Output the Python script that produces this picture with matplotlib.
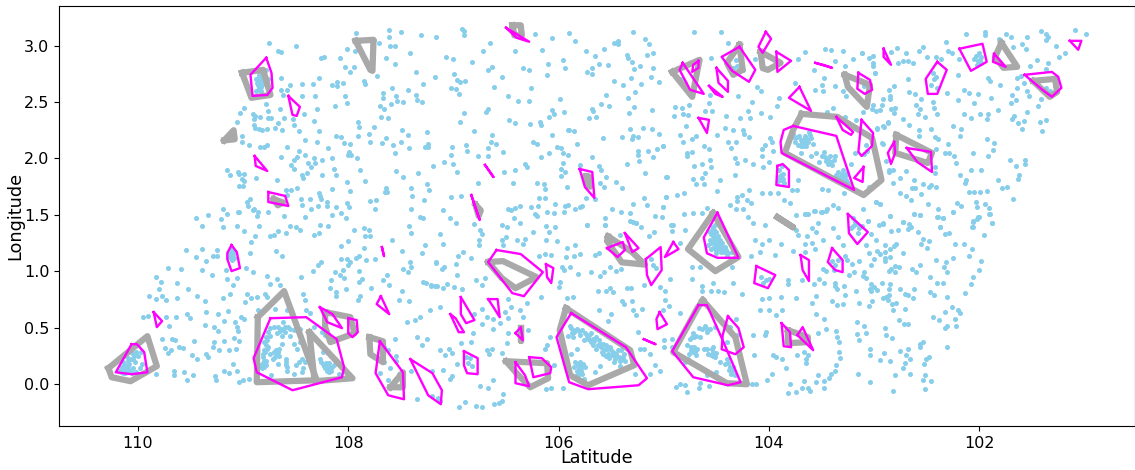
# -*- coding: utf-8 -*-
"""
Point clusters with gray and magenta hulls, values read off the picture
"""

import matplotlib
matplotlib.use("Agg")
import matplotlib.pyplot as plt

# Scattered points, by part of the map
pts_southwest = [(109.39,1.40),(109.19,1.39),(109.06,1.40),(108.99,1.36),(108.85,1.40),(108.55,1.40),(108.50,1.39),(108.46,1.37),(108.59,1.34),(108.67,1.36),(108.74,1.31),(108.71,1.325),(108.89,1.31),(108.92,1.26),(108.27,1.41),(108.19,1.40),(108.33,1.325),(108.28,1.34),(107.95,1.37),(107.85,1.38),(107.80,1.37),(107.84,1.31),(107.79,1.31),(107.58,1.28),(107.42,1.40),(107.40,1.34),(108.00,1.265),(108.07,1.225),(107.85,1.21),(107.90,1.14),(107.27,1.23),(107.30,1.16),(107.49,1.18),(109.54,1.19),(109.39,1.20),(109.25,1.19),(109.45,1.13),(109.29,1.135),(109.25,1.135),(109.35,1.09),(108.93,1.16),(108.69,1.18),(108.63,1.135),(109.71,1.03),(109.59,1.02),(109.39,1.01),(109.30,.97),(109.16,1.01),(108.97,1.03),(108.91,.99),(108.77,.96),(108.68,.93),(108.45,.95),(108.34,1.00),(108.29,1.055),(108.26,1.08),(108.13,.99),(108.07,1.11),(108.01,1.11),(107.98,1.085),(107.93,1.115),(107.83,1.10),(107.75,1.105),(108.05,1.01),(108.00,1.055),(108.08,.97),(108.04,.945),(107.90,1.005),(108.16,.92),(107.87,.93),(107.90,.905),(107.67,.92),(107.63,.965),(107.61,.88),(107.48,1.025),(107.43,.995),(107.41,1.085),(107.40,1.04),(107.17,1.075),(107.29,.91),(107.26,.90),(107.21,.875),(107.16,.87),
    (109.83,.95),(109.78,.91),(109.63,.90),(109.80,.845),(109.52,.845),(109.89,.78),(109.83,.755),(109.77,.78),(109.73,.745),(109.63,.76),(109.44,.78),(109.36,.735),(109.19,.76),(109.12,.80),(109.10,.88),(109.06,.94),(109.15,.93),(108.96,.80),(108.98,.73),(108.92,.76),(108.87,.77),(108.79,.80),(108.74,.89),(108.77,.77),(108.65,.88),(108.43,.80),(108.41,.745),(108.17,.855),(108.12,.82),(108.12,.78),(108.02,.84),(107.89,.78),(107.91,.745),(107.78,.85),(107.49,.83),(107.52,.745),(107.42,.74),(107.22,.655),(107.32,.60),(107.37,.567),(107.13,.685),
    (109.53,.625),(109.50,.585),(109.35,.64),(109.24,.625),(109.14,.645),(109.02,.60),(108.99,.58),(108.86,.655),(108.70,.665),(108.58,.66),(108.40,.655),(108.36,.63),(109.73,.60),(109.64,.60),(109.95,.595),(109.90,.605),(109.70,.52),(109.36,.525),(109.28,.51),(109.18,.56),(109.08,.55),(109.24,.47),(109.06,.51),(109.05,.47),(109.77,.40),(109.68,.40),(109.65,.395),(109.47,.38),(109.28,.37),(109.18,.38),(109.09,.41),(109.04,.38),(109.74,.325),(109.69,.305),(109.61,.33),(109.57,.325),(109.71,.28),(109.49,.26),(109.44,.22),(109.35,.27),(109.33,.24),(109.29,.33),(109.23,.305),(109.13,.30),(109.07,.31),(109.10,.18),(109.06,.12),(109.18,.12),(109.13,.10),(109.66,.12),(109.66,.08),(109.56,.105),(109.48,.08),(109.53,.04),(109.27,.07),(109.26,.035),(109.00,.035),(108.94,.05),(109.04,.02),(109.83,.09)]

pts_south_centre = [(107.13,1.33),(107.10,1.24),(106.98,1.425),(106.80,1.42),(106.75,1.365),(106.73,1.33),(106.76,1.28),(106.76,1.23),(106.54,1.41),(106.49,1.39),(106.37,1.425),(106.12,1.405),(106.03,1.395),(106.09,1.35),(106.24,1.35),(106.32,1.29),(106.40,1.28),(106.50,1.30),(106.54,1.28),(106.53,1.23),(106.34,1.24),(106.12,1.28),(106.02,1.27),(105.92,1.21),(105.84,1.23),(105.73,1.41),(105.56,1.41),(105.42,1.32),(105.26,1.425),(105.22,1.39),(104.93,1.41),(104.92,1.36),(104.80,1.365),(105.14,1.315),(105.09,1.35),(104.85,1.25),
    (106.91,1.175),(106.96,1.14),(106.83,1.12),(107.17,1.08),(106.98,1.065),(107.09,1.035),(107.11,1.02),(106.79,.92),(106.70,.94),(106.97,.97),(106.73,.88),(107.06,.89),(107.10,.855),(107.21,.87),(107.18,.87),(106.99,.86),(106.92,.84),(106.19,1.14),(106.13,1.155),(106.07,1.145),(105.93,1.13),(105.85,1.14),(105.80,1.15),(105.65,1.145),(105.62,1.16),(105.97,1.035),(105.89,1.04),(105.95,1.01),(105.82,.98),(105.69,.99),(105.57,.995),(105.51,1.035),(105.61,.96),(105.45,1.005),(105.41,1.02),(105.99,.91),(106.00,.86),(105.63,.83),(105.55,.83),(105.51,.855),(105.48,.815),(105.35,.85),(105.31,.855),(105.19,.88),(104.99,.825),(105.04,.86),(104.94,.93),(104.73,.93),(104.64,.87),(104.53,.90),(104.55,.83),(104.48,.83),(104.43,.82),(104.34,.90),(104.26,.80),(104.64,.83),(104.73,1.04),(104.66,1.04),(104.35,1.04),(103.82,.92),(103.82,.89),(103.69,.92),(103.74,1.365),(103.72,1.32),(103.89,1.24),(104.13,1.28),(104.07,1.24),(104.00,1.28),(104.17,1.14),(104.09,1.17),(103.94,1.145),(103.77,1.18),(103.66,1.24),
    (105.92,.76),(105.86,.775),(106.17,.775),(106.30,.72),(106.48,.755),(106.51,.64),(106.45,.68),(106.37,.655),(106.34,.60),(106.48,.59),(106.62,.58),(106.68,.60),(106.73,.67),(106.80,.625),(106.73,.535),(106.56,.54),(106.62,.49),(106.48,.45),(106.29,.48),(106.81,.455),(106.93,.365),(106.83,.375),(107.13,.30),(107.04,.315),(107.01,.28),(107.08,.255),(106.68,.30),(106.63,.315),(106.66,.265),(106.54,.275),(106.49,.365),(106.08,.42),(106.11,.345),(106.13,.31),(106.97,.18),(107.10,.13),(107.01,.07),(107.03,.05),(106.75,-.015),(106.62,.035),(106.67,-.035),(106.53,-.09),(106.95,-.20),(106.89,-.16),(106.79,-.19),(106.73,-.20),(106.61,-.175),(106.57,-.17),(106.54,-.145),(106.12,-.045),(106.07,-.035),(105.96,-.03),(106.04,.17),
    (105.62,.655),(105.50,.625),(105.53,.56),(105.40,.735),(105.38,.71),(105.30,.735),(105.29,.655),(105.26,.61),(105.21,.67),(105.25,.46),(105.19,.315),(105.23,.315),(105.13,.27),(105.08,.17),(105.04,.115),(105.13,.09),(104.99,.745),(104.95,.69),(105.01,.66),(104.85,.635),(105.00,.39),(104.92,.40),(104.92,.33),(105.00,.33),(104.88,-.025),(104.85,-.0),(104.80,-.01),(104.78,-.07),(104.66,.015),(104.67,-.03),(104.57,-.02),(104.16,.0),(104.12,.005),
    (104.07,.755),(104.00,.765),(103.89,.775),(103.74,.76),(104.09,.66),(104.00,.66),(103.93,.61),(103.88,.66),(104.03,.46),(104.15,.435),(104.04,.435),(104.14,.26),(103.96,.255),(103.93,.24),(103.88,.225),(103.73,.255),(103.67,.285),(103.84,.14),(103.97,.09),(104.02,.04),(103.80,.0),(103.74,-.065),(103.82,-.075),(103.69,-.035),
    (107.20,.12),(107.30,.35),(107.44,.55),(107.56,.40),(107.62,.30),(107.55,.25),(107.60,.14),(107.66,.20),(107.70,.10),(107.52,.09),(107.66,.33),(107.35,.42),(107.25,.40),(107.40,.12),(107.20,-.10),(107.15,-.12),(107.35,-.13),(107.13,-.15),(107.55,.21),(107.62,.04)]

pts_north_centre = [(104.71,3.12),(104.46,3.12),(104.39,3.02),(104.55,2.89),(104.13,2.88),(103.66,2.94),(103.47,2.97),(103.41,2.96),(103.30,2.95),(103.12,2.93),(103.01,2.91),(103.20,2.88),(103.37,2.86),(103.72,2.88),(103.28,2.815),(103.01,2.82),(102.99,2.76),(103.57,2.78),(103.48,2.71),(103.50,2.65),(103.49,2.60),(103.56,2.61),(103.37,2.64),(103.30,2.60),(103.27,2.55),(103.75,2.67),(104.11,2.63),(104.08,2.60),(103.90,2.54),(103.92,2.465),(104.16,2.50),(104.29,2.55),(104.56,2.56),(104.57,2.49),(104.89,2.46),(104.83,2.45),(104.76,2.475),(104.90,2.375),(104.82,2.395),(104.77,2.385),(104.61,2.42),(104.54,2.42),(104.41,2.375),(104.28,2.36),(104.18,2.355),(104.20,2.42),(104.08,2.40),(103.99,2.37),(104.79,2.29),(104.42,2.27),(104.34,2.25),(104.25,2.25),(104.24,2.215),(104.49,2.21),(104.69,2.20),(104.85,2.21),(104.73,2.17),(104.82,2.15),(105.01,2.11),(104.62,2.11),(104.57,2.08),(104.78,2.05),(104.73,2.06),(104.78,2.02),(104.39,2.15),(104.31,2.15),(104.36,2.09),(104.19,2.19),(103.99,2.185),(103.97,2.15),(104.04,2.12),(104.07,2.08),(103.96,2.07),(104.07,2.02),(104.06,1.92),(104.00,1.97),(104.56,1.985),(104.64,1.955),(104.71,1.935),(104.55,1.92),(104.61,1.87),(104.64,1.83),(104.72,1.82),(104.69,1.77),(104.62,1.77),(104.97,1.84),(104.47,1.81),(104.32,2.0),(104.30,1.956),(104.23,1.985),(104.15,1.95),(104.32,1.85),(104.49,1.71),(104.19,1.725),(104.81,1.695),(104.87,1.68),(104.98,1.66),(104.26,1.675),(104.30,1.66),(104.07,1.695),(103.99,1.69),(103.91,1.695),(103.78,1.725),(103.72,1.81),(103.73,1.72),(103.50,1.73),(103.44,1.72),(103.86,1.63),(103.80,1.607),(104.37,1.585),(104.30,1.625),(104.21,1.63),(104.17,1.607),(104.25,1.555),(104.31,1.555),(105.01,1.57),(104.59,1.565),(104.81,1.51),(104.72,1.52),(104.64,1.52),(104.91,1.41),(104.20,1.48),(104.15,1.43),(104.04,1.41),(103.66,1.51),(103.56,1.535),(103.50,1.53),(103.45,1.55),(103.74,1.50),(103.39,1.585),(103.34,1.557),(102.98,1.615),(102.94,1.60),(103.29,1.695),(103.05,1.75),(103.23,1.38),(102.94,2.43),(103.01,2.475),(103.11,2.415),(103.28,2.37),(103.17,2.34),(102.97,2.27),(102.92,2.29),(102.87,2.32),(102.93,2.14),(103.45,2.415),(103.39,2.445),(102.85,2.55),(102.84,2.44),(102.86,1.90)]

pts_northeast = [(102.13,3.10),(101.95,3.12),(101.95,3.09),(101.81,3.06),(101.75,3.10),(101.70,3.08),(101.55,3.075),(101.59,3.015),(101.56,2.97),(101.68,2.985),(101.41,3.13),(101.37,3.105),(101.35,3.075),(101.37,3.05),(101.09,3.14),(100.99,3.10),(101.27,3.0),(101.19,2.93),(101.24,2.90),(101.45,2.87),(101.35,2.845),(101.37,2.79),(101.52,2.82),(102.32,3.03),(102.54,2.99),(102.57,2.955),(102.70,2.93),(102.78,2.98),(102.84,2.94),(103.05,2.89),(103.12,2.93),(103.01,2.85),(102.99,2.76),(102.77,2.85),(102.73,2.865),(102.68,2.86),(102.63,2.845),(102.50,2.90),(102.41,2.90),(102.36,2.88),(102.30,2.95),(102.26,2.93),(102.19,2.88),(102.68,2.70),(102.81,2.64),(102.86,2.605),(102.67,2.59),(102.61,2.57),(102.55,2.525),(102.60,2.475),(102.56,2.435),(102.44,2.50),(102.43,2.45),(102.31,2.58),(102.20,2.74),(102.15,2.61),(102.10,2.58),(102.01,2.575),(102.20,2.52),(102.05,2.495),(101.89,2.54),(101.92,2.71),(101.90,2.69),(101.80,2.65),(101.69,2.56),(101.65,2.52),(101.70,2.49),(101.64,2.62),(101.55,2.60),(101.53,2.55),(101.41,2.53),(101.44,2.465),(101.55,2.41),(101.58,2.67),(101.64,2.71),(101.60,2.73),(101.82,2.43),(102.15,2.39),(102.08,2.355),(101.99,2.39),(101.92,2.395),(101.93,2.35),(101.67,2.375),(101.69,2.35),(101.58,2.335),(101.63,2.31),(101.59,2.265),(101.42,2.32),(101.37,2.34),(101.40,2.24),(102.25,2.29),(102.17,2.26),(102.18,2.20),(102.40,2.39),(102.52,2.365),(102.58,2.39),(102.73,2.35),(102.67,2.30),(102.81,2.40),(102.80,2.45),(102.93,2.47),(102.92,2.53),(102.85,2.53),(103.02,2.44),(102.98,2.42),(102.87,2.31),(102.91,2.28),(102.97,2.265),(102.57,2.25),(102.57,2.20),(102.46,2.265),(102.42,2.19),(102.39,2.17),(102.30,2.125),(102.92,2.13),(102.41,2.08),(102.33,2.05),(102.29,2.05),(102.24,2.025),(102.22,1.96),(102.06,2.045),(101.92,2.02),(101.87,2.075),(101.86,2.14),(101.93,2.175),(101.71,1.985),(101.65,1.935),(101.57,1.99),(101.57,1.95),(101.62,1.85),(101.63,1.82),(101.98,1.90),(102.08,1.90),(102.18,1.855),(102.13,1.81),(102.14,1.785),(101.82,1.81),(101.74,1.75),(101.78,1.735),(101.93,1.716),(101.99,1.70),(102.05,1.70),(102.10,1.70),(101.68,1.64),(102.41,1.75),(102.46,1.765),(102.48,1.75),(102.54,1.775),(102.61,1.735),(102.64,1.735),(102.62,1.81),(102.55,1.685),(102.75,1.695),(102.70,1.67),(102.82,1.78),(102.75,1.83),(102.70,1.89),(102.82,1.90),(102.86,1.88),(102.89,1.98),(102.42,1.92),(102.42,1.87),(102.98,1.61),(102.94,1.60),(102.65,1.63),(102.49,1.60),(102.39,1.55),(102.25,1.53),(102.21,1.607),(102.17,1.58),(102.03,1.615),(101.95,1.60),(101.91,1.56),(101.91,1.51),(102.02,1.57),(102.62,1.51),(102.56,1.50),(102.39,1.48),(102.35,1.47),(102.01,1.48),(102.06,1.44),(101.88,1.43),(102.06,1.39),(102.85,1.49),(103.06,1.45),(102.73,1.435),(102.92,1.42),(102.67,1.42),(102.37,1.39),(103.11,1.55)]

pts_southeast = [(102.85,1.49),(102.62,1.51),(102.56,1.50),(102.40,1.48),(102.35,1.47),(102.25,1.53),(101.90,1.51),(102.0,1.48),(102.02,1.46),(102.06,1.445),(101.88,1.43),(102.07,1.395),(101.96,1.32),(102.29,1.34),(102.33,1.33),(102.37,1.39),(102.58,1.35),(102.65,1.39),(102.68,1.375),(102.77,1.37),(102.84,1.36),(102.92,1.425),(102.95,1.41),(102.73,1.435),(103.06,1.45),(103.03,1.33),(102.98,1.28),(103.08,1.23),(102.90,1.235),(102.81,1.225),(102.79,1.24),(102.85,1.20),(102.73,1.165),(102.54,1.29),(102.48,1.265),(102.55,1.24),(102.50,1.205),(102.23,1.24),(102.15,1.24),(102.07,1.20),(102.10,1.14),(101.98,1.09),(102.0,1.01),(102.06,.95),(102.08,.89),(102.14,.81),(102.25,1.115),(102.41,1.10),(102.32,1.08),(102.34,1.04),(102.31,.99),(102.56,1.06),(102.64,1.02),(102.60,.995),(102.47,.95),(102.40,.895),(102.35,.895),(102.47,.82),(102.43,.79),(102.31,.77),(102.62,.84),(102.63,.76),(102.68,.79),(102.71,.795),(102.75,.84),(102.71,.667),(102.79,.717),(102.83,.71),(102.82,.66),(102.86,.845),(102.85,.89),(102.93,.90),(102.97,.835),(103.0,.86),(103.03,.886),(103.04,.845),(103.03,.825),(102.92,.76),(102.89,.776),(102.86,.79),(102.87,.75),(103.02,.735),(103.05,.69),(103.14,.72),(103.17,.824),(103.08,.94),(103.11,.96),(103.10,.998),(103.19,.993),(103.24,.966),(103.21,1.065),(103.26,1.10),(103.28,1.135),(103.14,1.09),(103.03,1.06),(103.0,1.11),(103.05,1.164),(102.97,1.176),(102.94,1.158),(102.90,1.167),(102.90,1.12),(102.90,1.09),(102.85,1.13),(102.80,1.05),(102.76,1.037),(102.84,1.02),(102.86,1.0),(102.80,.993),(103.30,1.23),(103.34,1.30),(103.49,1.28),(103.59,1.25),(103.56,1.194),(103.66,1.167),(103.39,1.386),(103.53,1.425),(103.59,1.386),(103.55,1.35),(103.64,1.31),(103.57,1.537),(103.51,1.53),(103.46,1.537),(103.66,1.507),(103.63,1.507),(103.49,1.02),(103.46,1.0),(103.52,.933),(103.48,.90),(103.57,.89),(103.37,.90),(103.37,.874),(103.35,.84),(103.29,.874),(103.28,.79),(103.55,.785),(103.59,.717),(103.40,.74),(103.35,.70),(103.30,.71),(103.55,.62),(103.48,.58),(103.46,.49),(103.53,.45),(103.36,.47),(103.35,.42),(103.33,.374),(103.33,.29),(103.32,.23),(103.36,.17),(103.37,.12),(103.41,.087),(103.43,.054),(103.53,.08),(103.48,.025),(103.55,.02),(103.48,-.03),(103.63,-.03),(103.61,-.06),(103.67,.033),(103.63,.255),(103.65,.225),(103.65,.19),(103.15,.09),(103.04,.02),(102.82,-.06),(102.80,.084),(102.94,.214),(102.85,.205),(103.04,.31),(103.04,.26),(102.91,.28),(102.75,.294),(102.68,.315),(102.70,.255),(102.66,.22),(102.71,.19),(102.73,.146),(102.66,.09),(102.54,.036),(102.52,.08),(102.46,.025),(102.52,-.04),(102.53,.175),(102.48,.24),(102.51,.22),(102.56,.33),(102.56,.36),(102.54,.37),(102.31,.327),(102.83,.406),(102.89,.44),(102.90,.495),(103.08,.454),(103.16,.448),(103.14,.394),(103.10,.513),(103.16,.55),(102.76,.572),(102.72,.53),(102.68,.537),(102.44,.60),(102.38,.572),(102.33,.64),(102.26,.685),(102.20,.655),(102.18,.63),(102.23,.58),(102.22,.516),(102.31,.516),(102.33,.50)]

pts_northwest = [(108.75,3.02),(108.50,3.0),(108.67,2.95),(108.64,2.94),(108.26,2.89),(108.23,2.90),(108.08,2.89),(108.01,2.97),(107.94,2.95),(107.93,3.11),(107.76,3.05),(107.71,3.02),(107.61,3.14),(107.61,3.08),(107.50,3.12),(107.60,3.0),(107.56,3.0),(107.41,2.93),(107.31,3.09),(107.17,3.08),(106.92,3.15),(106.90,3.13),(106.90,3.09),(106.65,3.02),(106.72,2.95),(106.22,3.10),(106.06,3.07),(105.90,3.11),(106.16,2.96),(106.41,2.95),(107.07,2.90),(107.0,2.885),(106.82,2.855),(107.64,2.89),(107.56,2.84),(106.10,2.84),(105.96,2.87),(105.94,2.80),(106.34,2.805),(106.28,2.785),(106.63,2.81),(106.67,2.78),(106.11,2.74),(106.54,2.72),(107.36,2.77),(107.18,2.725),(106.99,2.75),(106.97,2.695),(106.94,2.68),(106.89,2.69),(107.29,2.66),(107.02,2.62),(106.98,2.615),(106.95,2.57),(106.61,2.63),(106.26,2.62),(106.48,2.55),(106.39,2.51),(106.28,2.51),(105.99,2.53),(108.64,2.71),(108.55,2.65),(108.44,2.66),(108.34,2.66),(108.28,2.71),(108.15,2.65),(108.11,2.64),(108.11,2.68),(108.05,2.665),(108.03,2.81),(107.95,2.81),(107.98,2.77),(107.85,2.69),(107.84,2.66),(107.73,2.73),(108.64,2.61),(108.58,2.61),(108.62,2.56),(108.44,2.55),(108.32,2.55),(108.03,2.55),(107.67,2.58),(107.58,2.62),(107.43,2.61),(107.36,2.56),(107.55,2.55),(107.67,2.535),(107.35,2.52),(107.30,2.50),(107.54,2.51),(107.48,2.50),(107.59,2.48),(107.70,2.465),(107.66,2.44),(108.01,2.49),(108.13,2.465),(108.78,2.48),(108.99,2.45),(108.76,2.42),(108.65,2.44),(108.30,2.44),(109.03,2.40),(108.91,2.39),(108.89,2.375),(108.84,2.37),(108.90,2.35),(108.76,2.36),(108.73,2.36),(108.61,2.36),(108.53,2.35),(108.42,2.39),(108.33,2.33),(109.06,2.32),(108.67,2.31),(108.90,2.30),(108.52,2.30),(108.89,2.27),(108.85,2.26),(108.82,2.25),(108.77,2.26),(108.70,2.27),(108.63,2.25),(108.47,2.24),(108.28,2.245),(109.01,2.20),(109.01,2.145),(108.94,2.115),(108.84,2.10),(108.80,2.10),(108.77,2.12),(108.58,2.10),(108.41,2.16),(108.30,2.15),(108.19,2.09),(108.47,2.07),(108.41,2.03),(108.64,2.015),(108.49,2.015),(108.52,1.99),(108.54,1.94),(108.52,1.91),(108.33,2.005),(108.25,1.99),(108.15,2.005),(108.38,1.96),(108.32,1.96),(108.35,1.925),(108.39,1.875),(108.44,1.85),(108.43,1.83),(108.25,1.855),(108.14,1.905),(108.12,1.855),(109.15,1.90),(109.12,1.855),(109.05,1.88),(109.04,1.866),(108.99,1.86),(109.01,1.82),(108.99,1.80),(109.04,1.755),(109.0,1.76),(108.88,1.83),(108.68,1.81),(108.12,2.195),(108.07,2.19),(108.04,2.14),(107.98,2.13),(107.91,2.20),(107.80,2.22),(107.76,2.28),(107.91,2.32),(107.90,2.28),(107.69,2.37),(107.62,2.36),(107.79,2.145),(107.68,2.14),(107.64,2.18),(107.57,2.12),(107.50,2.15),(107.49,2.25),(107.43,2.21),(107.25,2.23),(107.24,2.13),(107.24,2.10),(107.27,2.10),(107.42,2.09),(107.56,2.05),(107.99,2.06),(108.0,2.03),(107.97,2.03),(107.92,2.0),(107.89,1.90),(108.01,1.795),(107.84,1.80),(107.55,1.89),(107.48,1.84),(107.34,1.87),(107.19,1.93),(107.09,1.97),(107.01,2.10),(107.02,2.03),(107.0,1.95),(106.97,1.88),(106.88,2.12),(106.87,2.07),(106.77,2.02),(106.67,2.02),(106.67,2.09),(106.64,2.145),(106.60,2.125),(106.63,2.205),(106.53,2.06),(106.94,2.32),(106.90,2.405),(106.80,2.245),(106.69,2.41),(106.67,2.435),(106.47,2.34),(106.41,2.31),(106.27,2.305),(106.18,2.325),(106.17,2.295),(106.09,2.365),(106.04,2.39),(106.06,2.425),(105.95,2.41),(105.91,2.255),(106.06,2.205),(106.24,2.145),(106.21,2.13),(106.02,2.10),(105.98,2.09),(105.96,2.05),(106.09,2.05),(106.17,2.015),(105.91,2.03),(105.96,1.96),(105.98,1.91),(105.98,1.846),(106.32,1.955),(106.30,1.925),(106.41,1.90),(106.52,1.88),(106.43,1.78),(106.21,1.78),(106.14,1.775),(106.13,1.73),(105.92,1.75),(106.77,1.78),(107.25,1.775),(107.23,1.72),(107.40,1.74),(107.64,1.74),(107.65,1.70),(107.63,1.70),(107.39,1.665),(107.28,1.63),(107.02,1.66),(106.93,1.665),(107.98,1.71),(108.15,1.73),(108.28,1.69),(108.27,1.665),(108.26,1.64),(108.45,1.645),(108.36,1.645),(108.59,1.72),(108.54,1.725),(108.49,1.74),(108.58,1.68),(108.93,1.64),(108.96,1.61),(108.95,1.58),(109.19,1.55),(109.15,1.505),(109.05,1.525),(109.04,1.525),(108.91,1.54),(108.90,1.55),(108.86,1.53),(108.87,1.49),(108.76,1.53),(108.61,1.49),(108.44,1.59),(108.35,1.555),(108.29,1.58),(108.20,1.61),(108.20,1.58),(108.12,1.57),(108.01,1.605),(107.99,1.57),(108.15,1.50),(108.07,1.515),(108.41,1.48),(108.02,1.47),(107.79,1.62),(107.74,1.63),(107.75,1.555),(107.40,1.55),(107.10,1.54),(107.32,1.48),(107.29,1.47),(107.03,1.47),(106.48,1.55),(106.45,1.54),(106.41,1.565),(106.37,1.575),(106.26,1.57),(106.20,1.58),(106.03,1.60),(105.91,1.59),(106.11,1.53),(106.04,1.52),(105.95,1.53),(106.22,1.51),(106.21,1.49),(106.42,1.47),(106.13,1.65),(106.19,1.65),
    (109.33,1.50),(109.45,1.47),(109.21,1.46)]

pts_top_middle = [(105.84,3.04),(105.74,2.95),(105.65,2.91),(105.57,2.97),(105.47,3.02),(105.44,3.04),(105.44,3.015),(105.29,3.12),(105.18,3.06),(105.14,3.01),(105.16,2.92),(105.10,2.93),(105.35,2.92),(105.34,2.89),(105.30,2.855),(105.23,2.82),(105.28,2.79),(105.10,2.80),(105.12,2.725),(105.62,2.835),(105.53,2.83),(105.68,2.80),(105.73,2.77),(105.68,2.75),(105.31,2.71),(105.47,2.69),(105.39,2.65),(105.22,2.66),(105.05,2.68),(105.27,2.59),(105.55,2.56),(105.34,2.54),(105.60,2.48),(105.52,2.465),(105.28,2.46),(105.68,2.44),(105.67,2.42),(105.64,2.37),(105.71,2.355),(105.33,2.405),(105.11,2.425),(105.90,2.255),(105.85,2.24),(105.58,2.18),(105.32,2.26),(105.20,2.27),(105.11,2.265),(105.05,2.22),(105.40,2.19),(105.29,2.20),(105.245,2.19),(105.30,2.175),(105.825,2.13),(105.68,2.01),(105.25,2.065),(105.25,2.03),(105.15,2.07),(105.06,2.08),(105.01,2.106),(105.10,2.01),(105.24,1.975),(105.35,1.95),(105.80,1.946),(105.62,1.935),(105.60,1.90),(105.94,1.88),(105.55,1.84),(105.18,1.867),(104.98,1.84),(105.61,1.78),(105.57,1.745),(105.45,1.79),(105.40,1.735),(105.74,1.65),(105.65,1.64),(105.19,1.65),(104.98,1.66),(105.29,1.60),(105.16,1.59),(105.01,1.57),(105.94,1.58),(105.80,1.57),(105.78,1.58),(105.84,1.55),(105.49,1.555),(105.41,1.53),(105.32,1.515),(105.08,1.49),(105.02,1.48),(105.56,1.47),(105.32,1.446),(105.29,1.44),(105.26,1.43),(105.73,1.413),(105.56,1.41)]

# Dense groups that sit inside the hulls
cluster_sw_corner = [(110.18,.12),(110.15,.15),(110.12,.12),(110.14,.20),(110.10,.24),(110.08,.18),(110.05,.14),(110.03,.20),(110.00,.25),(109.97,.29),(110.06,.28),(110.10,.11),(110.06,.10),(110.02,.11),(109.98,.14),(110.02,.29),(110.16,.11),(110.12,.17),(110.08,.13),(109.96,.18),(110.04,.25),(110.13,.13),(110.11,.15),(110.09,.16),(110.16,.13),(110.07,.22),(110.05,.22),(110.09,.21),(110.14,.10),(110.12,.10)]
cluster_big_west = [(108.76,.46),(108.78,.42),(108.80,.375),(108.76,.33),(108.79,.285),(108.81,.24),(108.78,.21),(108.82,.18),(108.80,.15),(108.82,.14),(108.71,.51),(108.67,.51),(108.62,.49),(108.57,.51),(108.52,.48),(108.46,.49),(108.68,.45),(108.63,.43),(108.55,.43),(108.71,.285),(108.68,.27),(108.70,.24),(108.67,.285),(108.63,.36),(108.52,.36),(108.49,.315),(108.59,.225),(108.59,.17),(108.58,.12),(108.67,.175),(108.73,.08),(108.50,.17),(108.44,.225),(108.41,.195),(108.43,.14),(108.33,.51),(108.25,.46),(108.22,.435),(108.17,.42),(108.27,.22),(108.24,.18),(108.20,.15),(108.17,.14),(108.14,.17),(108.16,.12),(108.20,.12),(108.09,.09),(108.24,.285),(108.46,.375),(108.62,.55),(108.52,.09),(108.44,.11),(108.77,.39),(108.80,.30),(108.74,.43),(108.65,.47),(108.60,.46),(108.79,.20),(108.74,.27),(108.72,.22),(108.19,.17),(108.22,.14),(108.18,.19),
    (108.78,.35),(108.77,.31),(108.81,.27),(108.80,.21),(108.78,.17),(108.83,.16),(108.69,.30),(108.69,.26),(108.66,.25),(108.66,.31),(108.60,.51),(108.55,.49),(108.50,.51),(108.74,.50),(108.65,.49),(108.59,.20),(108.58,.15),(108.47,.20),(108.21,.19),(108.18,.11),(108.15,.15),(108.23,.16),(108.26,.20)]
cluster_big_centre = [(105.89,.52),(105.86,.48),(105.91,.43),(105.83,.49),(105.78,.48),(105.73,.43),(105.69,.45),(105.76,.39),(105.64,.42),(105.61,.36),(105.67,.345),(105.56,.315),(105.51,.33),(105.59,.285),(105.64,.315),(105.53,.27),(105.48,.285),(105.43,.24),(105.46,.225),(105.38,.27),(105.37,.21),(105.83,.315),(105.88,.27),(105.84,.20),(105.80,.20),(105.81,.14),(105.78,.09),(105.76,.05),(105.83,.08),(105.75,.15),(105.61,.16),(105.42,.16),(105.65,.11),(105.27,.09),(105.70,.39),(105.66,.38),(105.60,.33),(105.55,.35),(105.50,.30),(105.45,.27),(105.41,.30),(105.86,.42),(105.80,.44),(105.72,.40),(105.58,.27),(105.52,.23),(105.47,.20),(105.82,.17),(105.79,.12),(105.85,.15),(105.77,.18),(105.40,.22),
    (105.88,.50),(105.85,.46),(105.81,.47),(105.75,.45),(105.71,.44),(105.67,.40),(105.62,.39),(105.63,.35),(105.58,.36),(105.57,.30),(105.54,.31),(105.49,.26),(105.46,.25),(105.42,.21),(105.39,.24),(105.83,.12),(105.80,.10),(105.82,.06),(105.78,.15),(105.80,.17),(105.87,.45),(105.69,.37),(105.55,.25),(105.44,.30)]
cluster_big_east = [(104.72,.45),(104.69,.43),(104.75,.40),(104.78,.345),(104.73,.315),(104.70,.285),(104.80,.20),(104.61,.52),(104.64,.49),(104.66,.42),(104.56,.49),(104.51,.51),(104.62,.315),(104.59,.315),(104.53,.33),(104.51,.24),(104.53,.285),(104.47,.20),(104.42,.18),(104.37,.15),(104.35,.12),(104.32,.08),(104.59,.08),(104.50,.11),(104.30,.435),(104.40,.375),(104.37,.51),(104.31,.58),(104.74,.30),(104.68,.31),(104.71,.33),(104.58,.27),(104.53,.25),(104.77,.22),(104.73,.42),(104.67,.50),(104.36,.09),(104.40,.22),
    (104.71,.42),(104.74,.33),(104.72,.29),(104.69,.26),(104.76,.27),(104.55,.26),(104.54,.31),(104.50,.28),(104.60,.50),(104.59,.46),(104.38,.13),(104.34,.15),(104.39,.19)]
cluster_mid_diamond = [(104.53,1.335),(104.56,1.28),(104.51,1.25),(104.48,1.31),(104.53,1.395),(104.47,1.20),(104.43,1.175),(104.50,1.19),(104.54,1.365),(104.50,1.35),(104.58,1.235),(104.45,1.25),(104.42,1.22),(104.535,1.31),(104.50,1.28),(104.465,1.28),(104.55,1.20),(104.39,1.16),(104.35,1.175),(104.51,1.41),
    (104.52,1.37),(104.55,1.33),(104.52,1.30),(104.55,1.25),(104.49,1.22),(104.46,1.23),(104.52,1.22),(104.44,1.20),(104.41,1.19),(104.48,1.25),(104.53,1.27),(104.46,1.17),(104.50,1.16),(104.40,1.14),(104.56,1.35)]
cluster_ne_hull = [(103.77,2.22),(103.73,2.19),(103.70,2.16),(103.66,2.20),(103.62,2.23),(103.60,2.18),(103.72,2.12),(103.66,2.14),(103.58,2.13),(103.75,2.15),(103.68,2.11),(103.64,2.17),(103.55,2.05),(103.50,2.02),(103.46,1.98),(103.42,2.02),(103.38,1.99),(103.44,1.95),(103.52,1.97),(103.40,1.94),(103.34,1.88),(103.30,1.90),(103.27,1.85),(103.33,1.80),(103.29,1.82),(103.25,1.78),(103.36,1.85),(103.31,1.86),(103.28,1.79),(103.60,2.02),(103.48,2.06),(103.22,1.95),(103.18,2.05),(103.70,2.05),
    (103.75,2.18),(103.71,2.20),(103.69,2.14),(103.67,2.17),(103.63,2.15),(103.61,2.21),(103.70,2.11),(103.65,2.11),(103.47,2.01),(103.44,1.99),(103.41,1.97),(103.37,2.02),(103.32,1.84),(103.30,1.85),(103.27,1.81),(103.31,1.79),(103.34,1.83),(103.26,1.87)]
cluster_small_hulls = [(108.85,2.74),(108.83,2.71),(108.87,2.67),(108.85,2.63),(108.82,2.65),(108.80,2.69),(108.88,2.60),(108.83,2.60),(108.78,2.78),(108.76,2.70),(109.11,1.20),(109.10,1.15),(109.11,1.10),(109.09,1.12),(109.13,1.13),(108.84,2.76),(108.86,2.70),(108.86,2.65),(108.84,2.68),(108.88,2.70),(108.83,2.63),(108.86,2.61),(109.10,1.18),(109.12,1.16),(109.11,1.13),
    (103.90,1.90),(103.87,1.86),(103.89,1.81),(103.86,1.78),(103.91,1.80),(103.88,1.93),(103.89,1.85),(103.87,1.82),(103.90,1.84),(104.31,2.87),(104.30,2.82),(104.34,2.80),(104.25,2.78),(104.87,2.72),(104.84,2.70),(104.80,2.67),
    (102.03,2.91),(102.00,2.93),(101.98,2.90),(102.01,2.86),(101.98,2.85),(102.05,2.88),(101.99,2.87),(102.02,2.83),(102.44,2.76),(102.41,2.72),(102.43,2.70),(102.46,2.65),(102.40,2.62),(101.37,2.62),(101.33,2.60),(101.28,2.64),(103.13,2.69),(103.10,2.64),(103.05,2.62),(103.08,2.12),(103.07,2.07),(103.10,2.04),
    (103.20,1.47),(103.17,1.42),(103.22,1.38),(103.14,1.38),(103.15,1.34),(103.12,1.40),(103.18,1.44),(103.20,1.40),(103.34,1.10),(103.37,1.06),(103.38,1.01),(103.40,1.09),(106.88,.24),(106.84,.23),(106.86,.19),(106.82,.16),(104.03,.92),(104.06,.90),(104.08,.95),(104.00,.93),(105.10,1.06),(105.07,1.03),(105.12,1.11)]

# Gray hulls
gray_a = [(110.28,.142),(109.91,.426),(109.82,.16),(110.07,.027),(110.25,.062)]
gray_b = [(108.86,.594),(108.61,.825),(108.30,.035),(108.87,.018)]
gray_c = [(108.37,.461),(107.96,.053),(108.32,.027)]
gray_d = [(108.22,.639),(107.98,.594),(107.94,.452),(108.17,.373),(108.22,.506)]
gray_e = [(107.80,.417),(107.67,.381),(107.67,.195),(107.79,.266)]
gray_f = [(107.60,-.027),(107.48,.106),(107.48,-.027)]
gray_g = [(106.67,1.082),(106.53,1.091),(106.21,.949),(106.41,.851),(106.54,.94)]
gray_h = [(106.36,.50),(106.36,.38)]
gray_i = [(106.50,.204),(106.11,.186),(106.10,.053),(106.27,-.027),(106.40,.098)]
gray_j = [(105.93,.674),(105.32,.302),(105.28,.169),(105.72,-.009),(105.89,.08),(105.99,.479)]
gray_k = [(105.53,1.31),(105.30,1.17),(105.18,1.06),(105.40,1.08),(105.54,1.27)]
gray_l = [(104.53,1.517),(104.77,1.197),(104.51,1.002),(104.29,1.127)]
gray_m = [(104.63,.745),(104.32,.417),(104.21,0),(104.40,.009),(104.91,.284),(104.68,.674)]
gray_n = [(103.82,.479),(103.63,.417),(103.63,.373),(103.82,.364)]
gray_o = [(103.92,1.48),(103.77,1.39)]
gray_p = [(104.92,2.767),(104.66,2.874),(104.73,2.546)]
gray_q = [(104.28,3.007),(104.25,2.785),(104.34,2.741),(104.40,2.847)]
gray_r = [(104.08,2.945),(103.89,2.847),(104.01,2.785),(104.06,2.80)]
gray_s = [(103.28,2.741),(103.04,2.652),(103.07,2.457),(103.25,2.634)]
gray_t = [(103.69,2.395),(103.35,2.368),(103.02,2.182),(102.93,1.809),(103.10,1.676),(103.85,2.049),(103.77,2.253)]
gray_u = [(101.79,3.025),(101.64,2.812),(101.77,2.803),(101.85,2.90)]
gray_v = [(101.49,2.687),(101.28,2.705),(101.26,2.59),(101.33,2.546)]
gray_w = [(102.79,2.209),(102.45,2.049),(102.49,1.96),(102.80,2.049)]
gray_x = [(109.01,2.759),(108.81,2.785),(108.74,2.563),(108.92,2.537)]
gray_y = [(109.18,2.16),(109.09,2.25),(109.08,2.17)]
gray_z = [(108.71,1.64),(108.62,1.61),(108.67,1.585)]
gray_aa = [(107.93,3.042),(107.76,3.051),(107.77,2.776),(107.79,2.785)]
gray_ab = [(106.44,3.18),(106.36,3.18),(106.35,3.09),(106.42,3.09)]
gray_ac = [(106.79,1.59),(106.74,1.54),(106.76,1.49)]
gray_ad = [(105.74,1.84),(105.71,1.84),(105.70,1.75),(105.73,1.76)]
gray_hulls = [gray_a, gray_b, gray_c, gray_d, gray_e, gray_f, gray_g, gray_h, gray_i, gray_j, gray_k, gray_l, gray_m, gray_n, gray_o, gray_p, gray_q, gray_r, gray_s, gray_t, gray_u, gray_v, gray_w, gray_x, gray_y, gray_z, gray_aa, gray_ab, gray_ac, gray_ad]

# Magenta hulls
magenta_hulls = [
    [(110.06,.355),(110.01,.355),(109.94,.284),(109.91,.106),(110.06,.089),(110.21,.106)],
    [(109.85,.639),(109.77,.559),(109.82,.506)],
    [(109.11,1.233),(109.06,1.171),(109.03,1.029),(109.11,1.002),(109.15,1.109),(109.15,1.162)],
    [(108.74,.585),(108.40,.594),(108.11,.399),(108.04,.151),(108.06,.062),(108.53,-.053),(108.87,.106),(108.90,.231)],
    [(108.27,.683),(108.15,.621),(108.06,.497),(108.20,.55)],
    [(108.00,.585),(107.92,.568),(107.91,.461),(107.96,.417),(108.00,.452)],
    [(107.70,.381),(107.48,.106),(107.47,-.133),(107.62,-.098),(107.74,.098)],
    [(107.69,.78),(107.61,.621),(107.73,.71)],
    [(107.68,1.215),(107.66,1.135)],
    [(107.41,.222),(107.20,.098),(107.11,-.053),(107.12,-.177),(107.24,-.098)],
    [(106.59,1.189),(106.36,1.153),(106.15,.993),(106.33,.78),(106.44,.807),(106.67,1.082)],
    [(106.12,1.064),(106.05,1.029),(106.07,.896),(106.11,.949)],
    [(106.67,.754),(106.58,.754),(106.56,.594),(106.62,.683)],
    [(106.93,.772),(106.80,.568),(106.88,.541),(106.93,.621)],
    [(107.03,.621),(106.98,.585),(106.90,.461),(106.95,.461)],
    [(106.41,.452),(106.36,.506),(106.34,.39)],
    [(106.90,.293),(106.77,.231),(106.77,.089),(106.87,.098),(106.90,.169)],
    [(106.41,.195),(106.32,.08),(106.28,-.018),(106.41,.009)],
    [(106.28,.24),(106.16,.231),(106.07,.151),(106.08,.098),(106.24,.062)],
    [(105.88,.63),(105.36,.328),(105.16,.053),(105.24,-.009),(105.72,-.044),(105.90,.018),(106.02,.417)],
    [(105.19,.399),(105.08,.355)],
    [(105.04,.639),(104.97,.532),(105.06,.488),(105.07,.577)],
    [(105.54,1.206),(105.39,1.26),(105.37,1.189),(105.44,1.127)],
    [(105.37,1.339),(105.24,1.206),(105.30,1.171)],
    [(105.17,1.109),(105.03,1.215),(105.02,1.011),(105.12,.878),(105.16,.967)],
    [(104.91,1.26),(104.86,1.197),(104.99,1.127)],
    [(104.49,1.52),(104.29,1.12),(104.49,1.12),(104.59,1.16),(104.62,1.30)],
    [(104.67,.701),(104.59,.701),(104.44,.39),(104.27,.018),(104.39,-.009),(104.72,.062),(104.92,.293)],
    [(104.39,.603),(104.29,.497),(104.24,.328),(104.32,.266),(104.45,.31),(104.44,.435)],
    [(104.12,1.047),(103.94,.967),(104.01,.851),(104.14,.896)],
    [(103.70,1.144),(103.62,1.10),(103.62,.914),(103.68,1.011)],
    [(103.25,1.508),(103.06,1.348),(103.16,1.242),(103.24,1.339)],
    [(103.40,1.206),(103.30,1.10),(103.30,.993),(103.37,1.011),(103.44,1.082)],
    [(103.88,.541),(103.80,.461),(103.79,.328),(103.86,.337)],
    [(103.73,.435),(103.68,.506),(103.58,.302)],
    [(104.82,2.847),(104.62,2.572),(104.75,2.608),(104.85,2.785)],
    [(104.67,2.865),(104.67,2.803),(104.73,2.767),(104.72,2.83)],
    [(104.50,2.803),(104.39,2.687),(104.39,2.59),(104.48,2.67)],
    [(104.57,2.643),(104.44,2.546),(104.51,2.572)],
    [(104.28,2.989),(104.13,2.785),(104.19,2.679),(104.35,2.776),(104.45,2.90)],
    [(104.03,3.122),(103.98,3.06),(104.06,2.936),(104.10,2.989)],
    [(103.93,2.945),(103.79,2.865),(103.92,2.767)],
    [(103.56,2.847),(103.40,2.803),(103.49,2.83)],
    [(103.15,2.759),(103.04,2.696),(103.02,2.608),(103.09,2.572),(103.16,2.617)],
    [(103.71,2.634),(103.60,2.421),(103.81,2.537)],
    [(104.67,2.359),(104.57,2.342),(104.59,2.226)],
    [(103.77,2.288),(103.36,2.20),(103.19,1.721),(103.88,2.049),(103.89,2.147),(103.86,2.253)],
    [(103.36,2.368),(103.20,2.235),(103.22,2.209),(103.30,2.253)],
    [(103.12,2.342),(103.01,2.226),(103.02,2.111),(103.12,2.022),(103.15,2.058)],
    [(103.10,1.925),(103.11,1.792),(103.19,1.827)],
    [(103.92,1.934),(103.87,1.951),(103.81,1.898),(103.81,1.747),(103.93,1.765)],
    [(102.91,2.972),(102.84,2.83),(102.91,2.90)],
    [(102.40,2.856),(102.31,2.785),(102.40,2.572),(102.49,2.572),(102.51,2.705)],
    [(102.19,2.972),(101.97,3.016),(101.93,2.856),(102.08,2.776)],
    [(101.86,2.927),(101.75,2.812),(101.87,2.856)],
    [(101.57,2.741),(101.31,2.767),(101.25,2.723),(101.22,2.625),(101.31,2.546),(101.40,2.608)],
    [(101.14,3.042),(101.03,3.042),(101.06,2.963)],
    [(102.69,2.093),(102.46,2.058),(102.45,1.88),(102.59,1.969)],
    [(102.81,2.147),(102.80,2.049),(102.84,1.951),(102.87,2.049)],
    [(108.78,2.892),(108.73,2.759),(108.72,2.625),(108.77,2.563),(108.91,2.554),(108.93,2.741)],
    [(108.57,2.554),(108.46,2.457),(108.49,2.377),(108.53,2.386)],
    [(108.89,2.022),(108.77,1.889),(108.88,1.934)],
    [(108.76,1.703),(108.60,1.668),(108.57,1.579),(108.76,1.614)],
    [(106.50,3.158),(106.28,3.034),(106.40,3.069)],
    [(106.70,1.943),(106.62,1.836)],
    [(106.83,1.676),(106.75,1.455),(106.80,1.588)],
    [(105.80,1.907),(105.68,1.88),(105.66,1.65),(105.75,1.747)]]

all_pts = (pts_southwest + pts_south_centre + pts_north_centre + pts_northeast + pts_southeast
           + pts_northwest + pts_top_middle + cluster_sw_corner + cluster_big_west
           + cluster_big_centre + cluster_big_east + cluster_mid_diamond + cluster_ne_hull
           + cluster_small_hulls)

x_ticks = [110, 108, 106, 104, 102]
y_ticks = [0.0, 0.5, 1.0, 1.5, 2.0, 2.5, 3.0]


def draw_hull(ax, hull, color, width):
    xs = [p[0] for p in hull] + [hull[0][0]]
    ys = [p[1] for p in hull] + [hull[0][1]]
    ax.plot(xs, ys, color=color, linewidth=width)


fig = plt.figure(figsize=(11.35, 4.7), dpi=100)
ax = fig.add_axes([0.052, 0.0936, 0.948, 0.8935])

ax.scatter([p[0] for p in all_pts], [p[1] for p in all_pts], s=13, color='skyblue', linewidths=0)

for hull in gray_hulls:
    draw_hull(ax, hull, 'darkgray', 4.5)
for hull in magenta_hulls:
    draw_hull(ax, hull, 'magenta', 1.7)

ax.set_xlim(110.75, 100.52)
ax.set_ylim(-0.37, 3.35)
ax.set_xticks(x_ticks)
ax.set_yticks(y_ticks)
ax.tick_params(labelsize=11.5)
ax.set_xlabel('Latitude', fontsize=12.7, labelpad=-1)
ax.set_ylabel('Longitude', fontsize=12.7, labelpad=0)

fig.savefig('out.png', dpi=100)
